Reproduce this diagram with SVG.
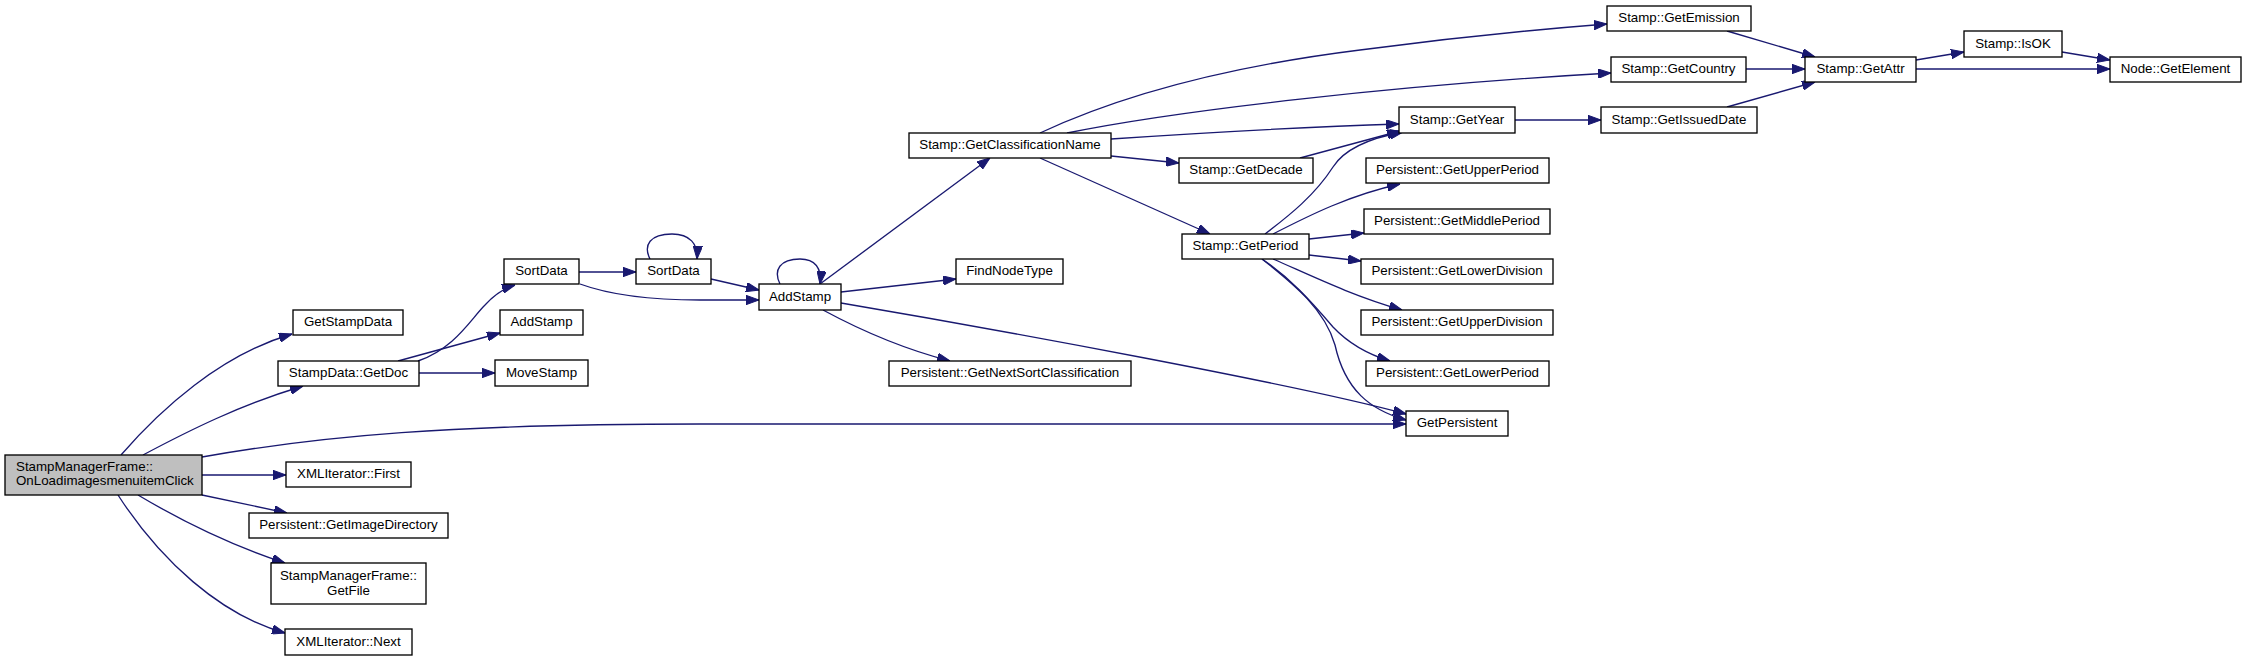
<svg xmlns="http://www.w3.org/2000/svg" width="2247" height="661" viewBox="0 0 2247 661">
<style>
.n rect{fill:#ffffff;stroke:#000000;stroke-width:1.33}
.n text{font-family:"Liberation Sans",Arial,sans-serif;font-size:13.33px;fill:#000000;text-anchor:middle}
#n0 rect{fill:#bfbfbf}
#n0 text{text-anchor:start}
.e path{fill:none;stroke:#191970;stroke-width:1.33;marker-end:url(#arr)}
</style>
<defs>
<marker id="arr" markerUnits="userSpaceOnUse" viewBox="0 0 13 9.4" refX="13" refY="4.7" markerWidth="13" markerHeight="9.4" orient="auto">
<path d="M0,0 L13,4.7 L0,9.4 z" fill="#191970" stroke="#191970" stroke-width="1"/>
</marker>
</defs>
<rect width="2247" height="661" fill="#ffffff"/>
<g class="e" id="edges">
<path d="M121,455 C160,410 220,355 292,334"/>
<path d="M143,455 C190,430 240,405 303,386"/>
<path d="M202,457 C320,436 450,424 700,424 L1406,424"/>
<path d="M202,475 L286,475"/>
<path d="M202,495 L287,513"/>
<path d="M138,495 C180,520 230,545 285,563"/>
<path d="M118,495 C160,560 220,615 285,633"/>
<path d="M418,361 C455,348 470,320 485,305 C495,294 505,288 515,285"/>
<path d="M398,361 L500,333"/>
<path d="M419,373 L495,373"/>
<path d="M579,272 L636,272"/>
<path d="M580,284 C610,295 650,300 700,300 L759,300"/>
<path d="M650,259 C643,245 650,234 672,234 C690,234 698,244 697,259"/>
<path d="M711,279 L759,290"/>
<path d="M780,284 C773,270 780,259 800,259 C815,259 822,268 820,284"/>
<path d="M820,284 L990,158"/>
<path d="M841,292 L956,279"/>
<path d="M841,303 C1000,330 1300,385 1406,414"/>
<path d="M823,310 C860,330 900,348 950,361"/>
<path d="M1040,133 C1100,105 1200,70 1360,50 C1450,38 1530,30 1607,24"/>
<path d="M1067,133 C1180,110 1400,85 1611,73"/>
<path d="M1111,139 C1200,133 1300,127 1399,124"/>
<path d="M1111,156 L1179,163"/>
<path d="M1040,158 L1210,234"/>
<path d="M1300,158 L1400,131"/>
<path d="M1265,234 C1290,215 1315,195 1333,167 C1345,148 1370,138 1403,132"/>
<path d="M1273,234 C1310,215 1350,195 1400,184"/>
<path d="M1309,239 L1364,233"/>
<path d="M1309,255 L1361,261"/>
<path d="M1273,259 C1310,275 1350,295 1402,310"/>
<path d="M1262,259 C1290,278 1310,300 1333,327 C1350,345 1370,355 1390,361"/>
<path d="M1262,259 C1295,285 1325,310 1335,345 C1345,390 1370,410 1406,420"/>
<path d="M1515,120 L1601,120"/>
<path d="M1727,31 L1815,57"/>
<path d="M1746,69 L1805,69"/>
<path d="M1727,107 L1815,82"/>
<path d="M1916,60 L1964,52"/>
<path d="M1916,69 L2110,69"/>
<path d="M2062,52 L2110,60"/>
</g>
<g class="n" id="n0"><rect x="5" y="455" width="197" height="40"/><text x="16" y="470.5">StampManagerFrame::</text><text x="16" y="484.5">OnLoadimagesmenuitemClick</text></g>
<g class="n" id="n1"><rect x="293" y="310" width="110" height="25"/><text x="348" y="326">GetStampData</text></g>
<g class="n" id="n2"><rect x="278" y="361" width="141" height="25"/><text x="348.5" y="377">StampData::GetDoc</text></g>
<g class="n" id="n3"><rect x="286" y="462" width="125" height="25"/><text x="348.5" y="478">XMLIterator::First</text></g>
<g class="n" id="n4"><rect x="249" y="513" width="199" height="25"/><text x="348.5" y="529">Persistent::GetImageDirectory</text></g>
<g class="n" id="n5"><rect x="271" y="563" width="155" height="41"/><text x="348.5" y="580">StampManagerFrame::</text><text x="348.5" y="594.5">GetFile</text></g>
<g class="n" id="n6"><rect x="285" y="629" width="127" height="26"/><text x="348.5" y="645.5">XMLIterator::Next</text></g>
<g class="n" id="n7"><rect x="504" y="259" width="75" height="25"/><text x="541.5" y="275">SortData</text></g>
<g class="n" id="n8"><rect x="500" y="310" width="83" height="25"/><text x="541.5" y="326">AddStamp</text></g>
<g class="n" id="n9"><rect x="495" y="360" width="93" height="26"/><text x="541.5" y="377">MoveStamp</text></g>
<g class="n" id="n10"><rect x="636" y="259" width="75" height="25"/><text x="673.5" y="275">SortData</text></g>
<g class="n" id="n11"><rect x="759" y="284" width="82" height="26"/><text x="800" y="301">AddStamp</text></g>
<g class="n" id="n12"><rect x="956" y="259" width="107" height="25"/><text x="1009.5" y="275">FindNodeType</text></g>
<g class="n" id="n13"><rect x="889" y="361" width="242" height="25"/><text x="1010" y="377">Persistent::GetNextSortClassification</text></g>
<g class="n" id="n14"><rect x="909" y="133" width="202" height="25"/><text x="1010" y="149">Stamp::GetClassificationName</text></g>
<g class="n" id="n15"><rect x="1179" y="158" width="134" height="25"/><text x="1246" y="174">Stamp::GetDecade</text></g>
<g class="n" id="n16"><rect x="1182" y="234" width="127" height="25"/><text x="1245.5" y="250">Stamp::GetPeriod</text></g>
<g class="n" id="n17"><rect x="1399" y="107" width="116" height="26"/><text x="1457" y="124">Stamp::GetYear</text></g>
<g class="n" id="n18"><rect x="1366" y="158" width="183" height="25"/><text x="1457.5" y="174">Persistent::GetUpperPeriod</text></g>
<g class="n" id="n19"><rect x="1364" y="209" width="186" height="25"/><text x="1457" y="225">Persistent::GetMiddlePeriod</text></g>
<g class="n" id="n20"><rect x="1361" y="259" width="192" height="25"/><text x="1457" y="275">Persistent::GetLowerDivision</text></g>
<g class="n" id="n21"><rect x="1361" y="310" width="192" height="25"/><text x="1457" y="326">Persistent::GetUpperDivision</text></g>
<g class="n" id="n22"><rect x="1366" y="361" width="183" height="25"/><text x="1457.5" y="377">Persistent::GetLowerPeriod</text></g>
<g class="n" id="n23"><rect x="1406" y="411" width="102" height="25"/><text x="1457" y="427">GetPersistent</text></g>
<g class="n" id="n24"><rect x="1607" y="6" width="144" height="25"/><text x="1679" y="22">Stamp::GetEmission</text></g>
<g class="n" id="n25"><rect x="1611" y="57" width="135" height="25"/><text x="1678.5" y="73">Stamp::GetCountry</text></g>
<g class="n" id="n26"><rect x="1601" y="107" width="156" height="26"/><text x="1679" y="124">Stamp::GetIssuedDate</text></g>
<g class="n" id="n27"><rect x="1805" y="57" width="111" height="25"/><text x="1860.5" y="73">Stamp::GetAttr</text></g>
<g class="n" id="n28"><rect x="1964" y="31" width="98" height="26"/><text x="2013" y="48">Stamp::IsOK</text></g>
<g class="n" id="n29"><rect x="2110" y="57" width="131" height="25"/><text x="2175.5" y="73">Node::GetElement</text></g>
</svg>
